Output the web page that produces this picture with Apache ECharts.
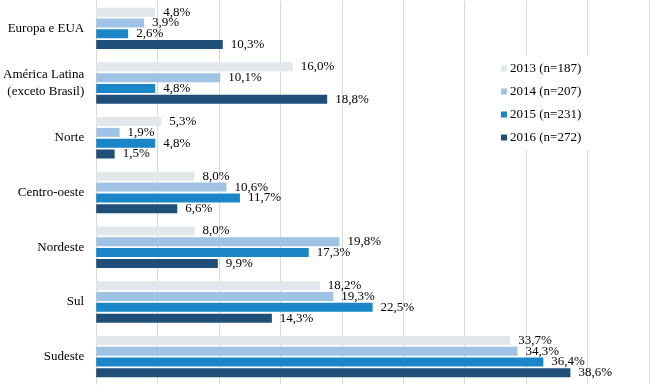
<!DOCTYPE html>
<html>
<head>
<meta charset="utf-8">
<script src="https://cdn.jsdelivr.net/npm/echarts@6/dist/echarts.min.js"></script>
<style>
html,body{margin:0;padding:0;background:#fff;}
#chart{width:650px;height:385px;}
</style>
</head>
<body>
<div id="chart"></div>
<script>
var categories = ['Europa e EUA', 'América Latina\n(exceto Brasil)', 'Norte', 'Centro-oeste', 'Nordeste', 'Sul', 'Sudeste'];
var seriesNames = ['2013 (n=187)', '2014 (n=207)', '2015 (n=231)', '2016 (n=272)'];
var v2013 = [4.8, 16.0, 5.3, 8.0, 8.0, 18.2, 33.7];
var v2014 = [3.9, 10.1, 1.9, 10.6, 19.8, 19.3, 34.3];
var v2015 = [2.6, 4.8, 4.8, 11.7, 17.3, 22.5, 36.4];
var v2016 = [10.3, 18.8, 1.5, 6.6, 9.9, 14.3, 38.6];
var colors = ['#e2e7ec', '#9fc3e5', '#1a86c8', '#1f4e79'];

var FONT = 'Liberation Serif';
var allValues = [v2013, v2014, v2015, v2016];

var series = seriesNames.map(function (name, i) {
  return {
    name: name,
    type: 'bar',
    data: allValues[i],
    barWidth: 9,
    barGap: '20%',
    itemStyle: { color: colors[i] },
    label: {
      show: true,
      position: 'right',
      distance: 8,
      fontFamily: FONT,
      fontSize: 13,
      color: '#000',
      formatter: function (p) { return p.value.toFixed(1).replace('.', ',') + '%'; }
    }
  };
});

var chart = echarts.init(document.getElementById('chart'));
chart.setOption({
  animation: false,
  backgroundColor: '#fff',
  textStyle: { fontFamily: FONT },
  grid: { left: 96, top: 1, width: 553, height: 383, containLabel: false },
  legend: {
    orient: 'vertical',
    left: 497,
    top: 56,
    padding: [6, 8, 6, 4],
    backgroundColor: '#fff',
    itemWidth: 6,
    itemHeight: 6,
    itemGap: 10,
    icon: 'rect',
    data: seriesNames,
    textStyle: { fontFamily: FONT, fontSize: 13, color: '#000', padding: [0, 0, 0, -2] }
  },
  xAxis: {
    type: 'value',
    min: 0,
    max: 45,
    interval: 5,
    axisLabel: { show: false },
    axisLine: { show: false },
    axisTick: { show: false },
    splitLine: { show: true, lineStyle: { color: '#d9d9d9', width: 1 } }
  },
  yAxis: {
    type: 'category',
    inverse: true,
    data: categories,
    axisTick: { show: false },
    axisLine: { show: true, lineStyle: { color: '#d9d9d9' } },
    axisLabel: { margin: 12, fontFamily: FONT, fontSize: 13, color: '#000', align: 'right', lineHeight: 17 }
  },
  series: series
});
</script>
</body>
</html>
